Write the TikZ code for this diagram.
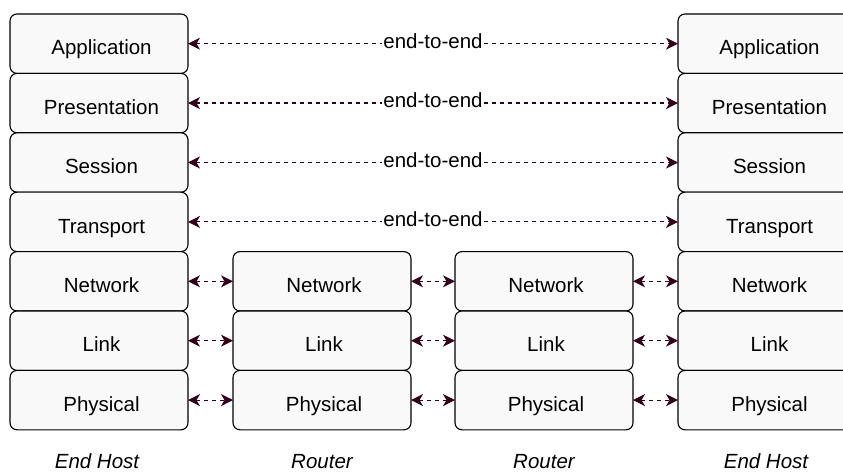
\documentclass[tikz,border=0pt]{standalone}
\usepackage{fontspec}
\setmainfont{Liberation Sans}
\usetikzlibrary{arrows.meta}
\definecolor{arrowc}{HTML}{33001A}
\definecolor{boxfill}{HTML}{F9F9F9}
\begin{document}
\begin{tikzpicture}[x=1pt,y=-1pt,
  layer/.style={draw=black, fill=boxfill, line width=1.1pt, rounded corners=7pt,
    minimum width=178pt, minimum height=59.4pt, inner sep=0pt, outer sep=0pt,
    font=\fontsize{20.5}{24}\selectfont, text height=22.5pt, text depth=0pt},
  conn/.style={draw=arrowc, line width=1.2pt, dash pattern=on 4pt off 4pt,
    {Stealth[length=12pt,width=12pt,inset=3.5pt]}-{Stealth[length=12pt,width=12pt,inset=3.5pt]}},
  e2e/.style={fill=white, inner xsep=1pt, inner ysep=0pt, font=\fontsize{20.5}{24}\selectfont, yshift=2.5pt},
  hostlbl/.style={font=\fontsize{20.5}{24}\selectfont\itshape, anchor=base, inner sep=0pt, text depth=0pt}
]
\clip (0,0) rectangle (843,473);
\fill[white] (0,0) rectangle (843,473);

% left end host
\foreach \n/\t [count=\i from 0] in {la/Application,lp/Presentation,ls/Session,lt/Transport,ln/Network,ll/Link,lph/Physical}{
  \node[layer] (\n) at (99,{43.7+59.4*\i}) {\hspace{5pt}\t};
}
% right end host
\foreach \n/\t [count=\i from 0] in {ra/Application,rp/Presentation,rs/Session,rt/Transport,rn/Network,rl/Link,rph/Physical}{
  \node[layer] (\n) at (767,{43.7+59.4*\i}) {\hspace{5pt}\t};
}
% routers
\foreach \n/\t [count=\i from 4] in {an/Network,al/Link,aph/Physical}{
  \node[layer] (\n) at (322,{43.7+59.4*\i}) {\hspace{4pt}\t};
}
\foreach \n/\t [count=\i from 4] in {bn/Network,bl/Link,bph/Physical}{
  \node[layer] (\n) at (544,{43.7+59.4*\i}) {\hspace{4pt}\t};
}

% end-to-end connectors
\foreach \a/\b in {la/ra,lp/rp,ls/rs,lt/rt}{
  \draw[conn] (\a.east) -- (\b.west) node[midway,e2e] {end-to-end};
}
% hop connectors
\foreach \a/\b in {ln/an,ll/al,lph/aph,an/bn,al/bl,aph/bph,bn/rn,bl/rl,bph/rph}{
  \draw[conn] (\a.east) -- (\b.west);
}

% host labels
\node[hostlbl] (h1) at (97,468) {End Host};
\node[hostlbl] (h2) at (322,468) {Router};
\node[hostlbl] (h3) at (544,468) {Router};
\node[hostlbl] (h4) at (766,468) {End Host};
\end{tikzpicture}
\end{document}
